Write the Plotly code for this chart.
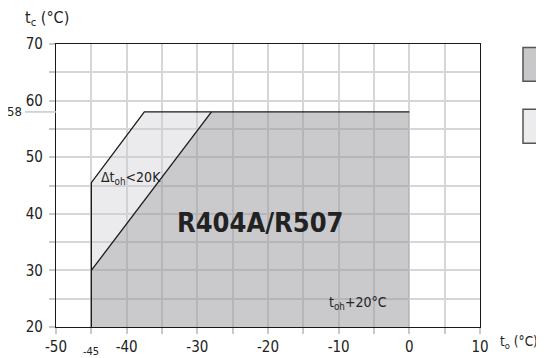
import plotly.graph_objects as go

# Envelope data
dark_x = [-45, -45, -28, 0, 0]
dark_y = [20, 30, 58, 58, 20]
light_x = [-45, -45, -37.5, -28]
light_y = [30, 45.5, 58, 58]
outline_x = [-45, -45, -37.5, 0]
outline_y = [20, 45.5, 58, 58]
diag_x = [-45, -28]
diag_y = [30, 58]

x_ticks = [-50, -40, -30, -20, -10, 0, 10]
x_labels = ["-50", "-40", "-30", "-20", "-10", "0", "10"]
y_ticks = [20, 30, 40, 50, 60, 70]
y_labels = ["20", "30", "40", "50", "60", "70"]

FONT = "DejaVu Sans Condensed, Liberation Sans Narrow, Arial Narrow, Liberation Sans"

fig = go.Figure()
fig.add_trace(go.Scatter(x=dark_x, y=dark_y, fill="toself", mode="none",
                         fillcolor="rgba(150,150,156,0.5)", hoverinfo="skip"))
fig.add_trace(go.Scatter(x=light_x, y=light_y, fill="toself", mode="none",
                         fillcolor="rgba(205,205,212,0.4)", hoverinfo="skip"))
fig.add_trace(go.Scatter(x=outline_x, y=outline_y, mode="lines",
                         line=dict(color="#1a1a1a", width=1.3), hoverinfo="skip"))
fig.add_trace(go.Scatter(x=diag_x, y=diag_y, mode="lines",
                         line=dict(color="#1a1a1a", width=1.3), hoverinfo="skip"))

# page body adds an 8px offset, so the figure is 536x350
fig.update_layout(
    width=536, height=350,
    margin=dict(l=48, r=64, t=36, b=31, autoexpand=False),
    plot_bgcolor="white", paper_bgcolor="white",
    showlegend=False,
    font=dict(family=FONT, size=15, color="#222"),
)
common = dict(ticks="outside", ticklen=6, tickcolor="#c8c8c8", tickwidth=1.5,
              showgrid=True, gridcolor="#d6d6d6", gridwidth=1.5,
              minor=dict(dtick=5, tick0=0, showgrid=True, gridcolor="#d6d6d6", gridwidth=1.5,
                         ticks="outside", ticklen=6, tickcolor="#c8c8c8"),
              showline=True, linecolor="#1a1a1a", linewidth=1.3, mirror=True,
              zeroline=False, fixedrange=True, automargin=False,
              tickfont=dict(size=15))
fig.update_xaxes(range=[-50, 10], tickvals=x_ticks, ticktext=x_labels, **common)
fig.update_yaxes(range=[20, 70], tickvals=y_ticks, ticktext=y_labels,
                 ticklabelstandoff=3, **common)

# Extra reference marks (58 and -45)
fig.add_shape(type="line", xref="paper", yref="y", x0=-0.073, x1=0, y0=58, y1=58,
              line=dict(color="#c8c8c8", width=1.5))
fig.add_annotation(xref="paper", yref="y", x=-0.076, y=58, text="58", showarrow=False,
                   xanchor="right", font=dict(size=13))
fig.add_annotation(xref="x", yref="paper", x=-45, y=-0.088, text="-45", showarrow=False,
                   yanchor="middle", font=dict(size=11))

# Axis titles
fig.add_annotation(xref="paper", yref="paper", x=-0.078, y=1.09, text="t<sub>c</sub> (°C)",
                   showarrow=False, xanchor="left", yanchor="middle", font=dict(size=16))
fig.add_annotation(xref="paper", yref="paper", x=1.0, y=-0.054, xshift=18,
                   text="t<sub>o</sub> (°C)", showarrow=False, xanchor="left",
                   yanchor="middle", font=dict(size=13.5))

# Inner labels
fig.add_annotation(x=-21, y=38.5, text="<b>R404A/R507</b>", showarrow=False,
                   font=dict(size=27, color="#222"))
fig.add_annotation(x=-39.4, y=46.3, text="Δt<sub>oh</sub><20K", showarrow=False,
                   font=dict(size=14))
fig.add_annotation(x=-7.2, y=24.2, text="t<sub>oh</sub>+20°C", showarrow=False,
                   font=dict(size=14))

# Legend swatches at right edge
fig.add_shape(type="rect", xref="paper", yref="paper", x0=1.1014, x1=1.2, y0=0.868, y1=0.988,
              fillcolor="#c8c8ca", line=dict(color="#555", width=1.5))
fig.add_shape(type="rect", xref="paper", yref="paper", x0=1.1014, x1=1.2, y0=0.649, y1=0.769,
              fillcolor="#ececee", line=dict(color="#555", width=1.5))

fig.write_html("out.html")
